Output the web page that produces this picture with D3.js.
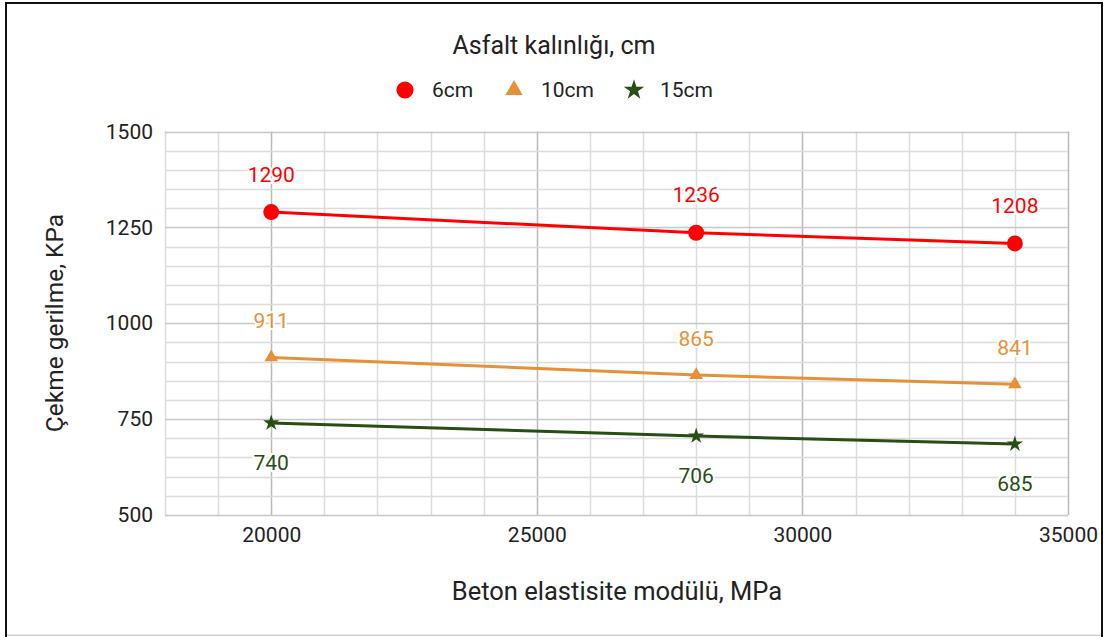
<!DOCTYPE html>
<html>
<head>
<meta charset="utf-8">
<script src="https://cdn.jsdelivr.net/npm/d3@7"></script>
<style>
  html, body { margin: 0; padding: 0; background: #fff; }
  svg text { font-family: Roboto, "Noto Sans", sans-serif; }
</style>
</head>
<body>
<svg id="chart" width="1110" height="637"></svg>
<script>
// Concrete elastic modulus (MPa) on x, tensile stress (kPa) on y
const modulus = [20000, 28000, 34000];
const stress6cm = [1290, 1236, 1208];
const stress10cm = [911, 865, 841];
const stress15cm = [740, 706, 685];
const seriesNames = ["6cm", "10cm", "15cm"];
const xTicks = [20000, 25000, 30000, 35000];
const yTicks = [500, 750, 1000, 1250, 1500];

const W = 1110, H = 637;
const plot = { left: 165, right: 1068, top: 131.5, bottom: 515 };

const svg = d3.select("#chart");

const x = d3.scaleLinear().domain([18000, 35000]).range([plot.left, plot.right]);
const y = d3.scaleLinear().domain([500, 1500]).range([plot.bottom, plot.top]);

// frame around the whole figure
svg.append("rect").attr("x", 5).attr("y", 2).attr("width", 2).attr("height", H - 2).attr("fill", "#111");
svg.append("rect").attr("x", 5).attr("y", 2).attr("width", 1098).attr("height", 2).attr("fill", "#111");
svg.append("rect").attr("x", 1101).attr("y", 2).attr("width", 2).attr("height", H - 2).attr("fill", "#111");
svg.append("rect").attr("x", 7).attr("y", 634.5).attr("width", 1094).attr("height", 1.5).attr("fill", "#d0d0d0");

// gridlines: minor every 1000 MPa / 50 kPa, major at tick values
const grid = svg.append("g");
d3.range(18000, 35001, 1000).forEach(v => {
  const major = xTicks.includes(v);
  grid.append("line")
    .attr("x1", Math.round(x(v)) + 0.5).attr("x2", Math.round(x(v)) + 0.5)
    .attr("y1", plot.top).attr("y2", plot.bottom)
    .attr("stroke", major ? "#b9b9b9" : "#dcdcdc").attr("stroke-width", 1.5);
});
d3.range(500, 1501, 50).forEach(v => {
  const major = yTicks.includes(v);
  grid.append("line")
    .attr("x1", plot.left).attr("x2", plot.right)
    .attr("y1", Math.round(y(v)) + 0.5).attr("y2", Math.round(y(v)) + 0.5)
    .attr("stroke", major ? "#c8c8c8" : "#dcdcdc").attr("stroke-width", 1.5);
});

// axes (labels only, no domain paths)
const xAxis = svg.append("g")
  .attr("transform", `translate(0,${plot.bottom})`)
  .call(d3.axisBottom(x).tickValues(xTicks).tickSize(0).tickPadding(12).tickFormat(d3.format("d")));
xAxis.select(".domain").remove();
xAxis.selectAll("text").attr("font-size", 21).attr("fill", "#222").attr("font-family", "Roboto");

const yAxis = svg.append("g")
  .attr("transform", `translate(${plot.left},0)`)
  .call(d3.axisLeft(y).tickValues(yTicks).tickSize(0).tickPadding(12).tickFormat(d3.format("d")));
yAxis.select(".domain").remove();
yAxis.selectAll("text").attr("font-size", 21).attr("fill", "#222").attr("font-family", "Roboto");

// titles
svg.append("text").attr("x", 554).attr("y", 54).attr("text-anchor", "middle")
  .attr("font-size", 25).attr("fill", "#222").text("Asfalt kalınlığı, cm");
svg.append("text").attr("x", 617).attr("y", 600).attr("text-anchor", "middle")
  .attr("font-size", 25.5).attr("fill", "#222").text("Beton elastisite modülü, MPa");
svg.append("text").attr("transform", "translate(63,323) rotate(-90)").attr("text-anchor", "middle")
  .attr("font-size", 24.5).attr("fill", "#222").text("Çekme gerilme, KPa");

const series = [
  { name: seriesNames[0], values: stress6cm, color: "#ff0000", symbol: d3.symbolCircle, size: 200, labelDy: -30.5 },
  { name: seriesNames[1], values: stress10cm, color: "#e69138", symbol: d3.symbolTriangle, size: 80, labelDy: -29.5 },
  { name: seriesNames[2], values: stress15cm, color: "#274e13", symbol: d3.symbolStar, size: 80, labelDy: 47 }
];

const line = d3.line().x(d => x(d[0])).y(d => y(d[1]));

series.forEach(s => {
  const pts = modulus.map((m, i) => [m, s.values[i]]);
  const g = svg.append("g");
  g.append("path").datum(pts).attr("d", line)
    .attr("fill", "none").attr("stroke", s.color).attr("stroke-width", 3);
  g.selectAll("path.pt").data(pts).join("path").attr("class", "pt")
    .attr("transform", d => `translate(${x(d[0])},${y(d[1])})`)
    .attr("d", d3.symbol().type(s.symbol).size(s.size))
    .attr("fill", s.color);
  g.selectAll("text").data(pts).join("text")
    .attr("x", d => x(d[0])).attr("y", d => y(d[1]) + s.labelDy)
    .attr("text-anchor", "middle").attr("font-size", 21)
    .attr("fill", s.color)
    .attr("stroke", "#fff").attr("stroke-width", 4).attr("paint-order", "stroke")
    .text(d => d[1]);
});

// legend
const legendItems = [
  { s: series[0], cx: 405, tx: 432 },
  { s: series[1], cx: 514, tx: 541 },
  { s: series[2], cx: 634, tx: 660 }
];
legendItems.forEach(it => {
  const sz = it.s.symbol === d3.symbolCircle ? 230 : 130;
  svg.append("path").attr("transform", `translate(${it.cx},90)`)
    .attr("d", d3.symbol().type(it.s.symbol).size(sz)).attr("fill", it.s.color);
  svg.append("text").attr("x", it.tx).attr("y", 97).attr("font-size", 21)
    .attr("fill", "#222").text(it.s.name);
});
</script>
</body>
</html>
